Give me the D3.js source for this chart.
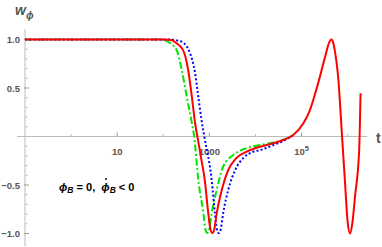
<!DOCTYPE html>
<html><head><meta charset="utf-8">
<script src="https://cdn.jsdelivr.net/npm/d3@7"></script>
<style>body{margin:0;background:#fff}svg{display:block}text{font-family:"Liberation Sans",Arial,sans-serif}</style>
</head><body><svg id="c" width="382" height="247"></svg>
<script>
// log10(t) and w_phi values
const redLogT = [-1,0,1,1.5,2.0,2.1,2.21,2.25,2.43,2.54,2.62,2.69,2.74,2.82,2.90,2.976,3.02,3.065,3.11,3.16,3.27,3.41,3.59,3.81,4.10,4.39,4.60,4.82,5.04,5.18,5.36,5.51,5.60,5.65,5.69,5.72,5.80,5.87,5.94,6.0,6.05,6.10,6.16,6.25,6.28];
const redW    = [1,1,1,1,1,0.998,0.99,0.975,0.89,0.686,0.41,0.14,0.0,-0.22,-0.45,-0.79,-0.95,-0.995,-0.95,-0.79,-0.55,-0.345,-0.22,-0.157,-0.105,-0.07,-0.036,0.015,0.136,0.27,0.55,0.82,0.97,1.0,0.96,0.89,0.58,0.067,-0.45,-0.88,-1.0,-0.9,-0.62,-0.14,0.445];
const greenLogT = [-1,0,1,1.5,1.9,2.0,2.07,2.29,2.40,2.51,2.62,2.67,2.76,2.87,2.91,2.955,3.0,3.05,3.16,3.30,3.52,3.81,4.10,4.39,4.60,4.82];
const greenW    = [1,1,1,1,1,0.998,0.985,0.89,0.686,0.41,0.14,0.0,-0.45,-0.79,-0.95,-0.995,-0.95,-0.79,-0.55,-0.31,-0.19,-0.12,-0.088,-0.062,-0.036,0.015];
const blueLogT = [-1,0,1,1.5,2.0,2.2,2.30,2.40,2.58,2.69,2.76,2.83,2.89,3.05,3.12,3.16,3.205,3.25,3.30,3.41,3.56,3.74,3.95,4.10,4.39,4.60,4.82];
const blueW    = [1,1,1,1,1,0.998,0.99,0.977,0.86,0.655,0.41,0.17,0.0,-0.45,-0.79,-0.95,-0.995,-0.95,-0.79,-0.55,-0.345,-0.22,-0.157,-0.14,-0.088,-0.046,0.015];
const yTicks = [-1.0,-0.5,0.5,1.0];
const yTickLabels = ["\u22121.0","\u22120.5","0.5","1.0"];
const xMajorExp = [1,3,5];
const xMinorExp = [0,2,4,6];

const svg = d3.select("#c");
const x = d3.scaleLog().domain([0.1, Math.pow(10,6.42)]).range([25,367]);
const y = d3.scaleLinear().domain([-1,1]).range([233.5,39.5]);
const axisCol = "#bdbdbd", labCol = "#555";

// axes lines
svg.append("line").attr("x1",17).attr("x2",367).attr("y1",y(0)).attr("y2",y(0)).attr("stroke",axisCol).attr("stroke-width",1);
svg.append("line").attr("x1",x(0.1)).attr("x2",x(0.1)).attr("y1",29).attr("y2",246).attr("stroke",axisCol).attr("stroke-width",1);

// y ticks
const yMinor = d3.range(-10,11).map(i=>i/10).filter(v=>Math.abs(v)>1e-9 && Math.abs(v*2-Math.round(v*2))>1e-9);
svg.selectAll(".ymin").data(yMinor).join("line").attr("x1",x(0.1)).attr("x2",x(0.1)+2.5)
  .attr("y1",d=>y(d)).attr("y2",d=>y(d)).attr("stroke",axisCol);
svg.selectAll(".ymaj").data(yTicks).join("line").attr("x1",x(0.1)-1).attr("x2",x(0.1)+4)
  .attr("y1",d=>y(d)).attr("y2",d=>y(d)).attr("stroke","#999");
svg.selectAll(".ylab").data(yTicks).join("text").attr("x",x(0.1)-5).attr("y",d=>y(d)+3.5)
  .attr("text-anchor","end").attr("font-size",9.5).attr("font-weight","bold").attr("fill",labCol)
  .text((d,i)=>yTickLabels[i]);

// x ticks
svg.selectAll(".xmin").data(xMinorExp).join("line").attr("x1",d=>x(Math.pow(10,d))).attr("x2",d=>x(Math.pow(10,d)))
  .attr("y1",y(0)).attr("y2",y(0)-2.5).attr("stroke",axisCol);
svg.selectAll(".xmaj").data(xMajorExp).join("line").attr("x1",d=>x(Math.pow(10,d))).attr("x2",d=>x(Math.pow(10,d)))
  .attr("y1",y(0)).attr("y2",y(0)-4).attr("stroke","#999");
xMajorExp.forEach(e=>{
  const t = svg.append("text").attr("x",x(Math.pow(10,e))).attr("y",y(0)+18).attr("text-anchor","middle")
    .attr("font-size",9.5).attr("font-weight","bold").attr("fill",labCol);
  if (e<5) t.text(String(Math.pow(10,e)));
  else { t.append("tspan").text("10"); t.append("tspan").attr("dy",-4).attr("font-size",7.5).text(String(e)); }
});

// axis labels
const wl = svg.append("text").attr("x",15).attr("y",15).attr("font-size",14).attr("font-weight","bold").attr("font-style","italic").attr("fill",labCol);
wl.append("tspan").text("w");
wl.append("tspan").attr("dy",4).attr("font-size",10).text("\u03d5");
svg.append("text").attr("x",376).attr("y",143).attr("font-size",14).attr("font-weight","bold").attr("fill",labCol).text("t");

// annotation
const an = svg.append("text").attr("x",59).attr("y",191).attr("font-size",11).attr("font-weight","bold").attr("fill","#000");
an.append("tspan").attr("font-style","italic").text("\u03d5");
an.append("tspan").attr("font-style","italic").attr("font-size",8.5).attr("dy",2).text("B");
an.append("tspan").attr("dy",-2).text(" = 0,\u00a0 ");
const phi2 = an.append("tspan").attr("font-style","italic").text("\u03d5");
an.append("tspan").attr("font-style","italic").attr("font-size",8.5).attr("dy",2).text("B");
an.append("tspan").attr("dy",-2).text(" < 0");
// dot over second phi
let xpos = 100;
try {
  const n = phi2.node();
  xpos = n.getStartPositionOfChar(0).x + n.getComputedTextLength()/2 + 0.5;
} catch(e) {}
svg.append("circle").attr("cx",xpos).attr("cy",179).attr("r",0.95).attr("fill","#000");

// curves
const line = d3.line().x(d=>x(Math.pow(10,d[0]))).y(d=>y(d[1])).curve(d3.curveMonotoneX);
const zip = (a,b)=>a.map((v,i)=>[v,b[i]]);
svg.append("path").datum(zip(greenLogT,greenW)).attr("d",line).attr("fill","none")
  .attr("stroke","#00e600").attr("stroke-width",2).attr("stroke-dasharray","7,2.5,2,2.5");
svg.append("path").datum(zip(blueLogT,blueW)).attr("d",line).attr("fill","none")
  .attr("stroke","#0000ff").attr("stroke-width",2).attr("stroke-dasharray","2,2.2");
svg.append("path").datum(zip(redLogT,redW)).attr("d",line).attr("fill","none")
  .attr("stroke","#ff0000").attr("stroke-width",2);
</script></body></html>
